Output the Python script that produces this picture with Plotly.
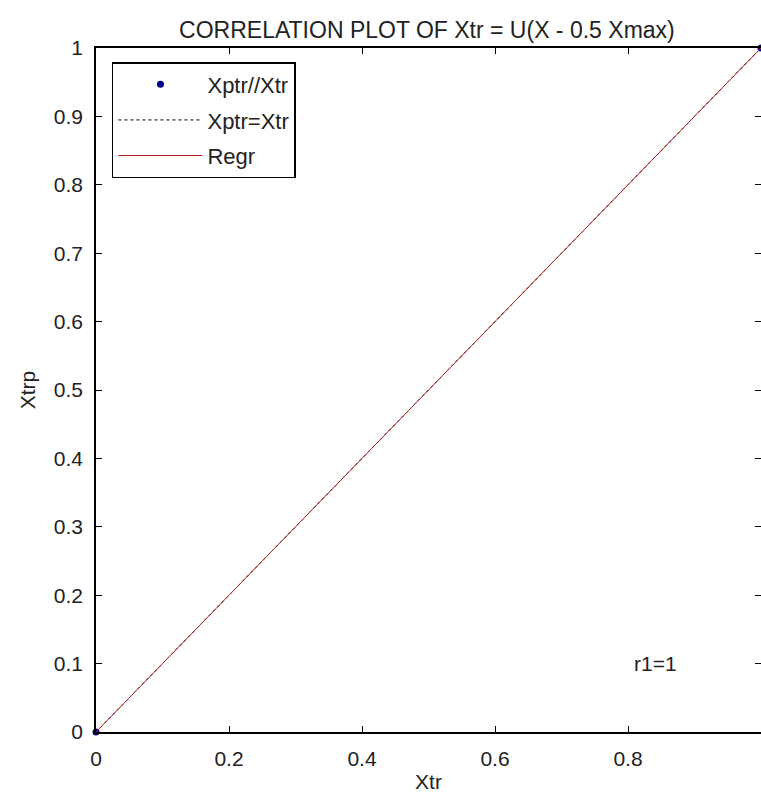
import plotly.graph_objects as go

# Data
xtr = [0, 1]
xtrp = [0, 1]
ideal_x = [0, 1]
ideal_y = [0, 1]
regr_x = [0, 1]
regr_y = [0, 1]
x_ticks = [0, 0.2, 0.4, 0.6, 0.8, 1]
y_ticks = [0, 0.1, 0.2, 0.3, 0.4, 0.5, 0.6, 0.7, 0.8, 0.9, 1]
r_text = "r1=1"

FONT = "Liberation Sans, Arial, sans-serif"
TXT = "#222222"

fig = go.Figure()
fig.add_trace(go.Scatter(x=xtr, y=xtrp, mode="markers", name="Xptr//Xtr", legendgroup="a",
                         marker=dict(color="#00008B", size=7, symbol="circle"),
                         cliponaxis=False))
fig.add_trace(go.Scatter(x=ideal_x, y=ideal_y, mode="lines", name="Xptr=Xtr", legendgroup="b",
                         line=dict(color="black", width=1, dash="dot")))
fig.add_trace(go.Scatter(x=regr_x, y=regr_y, mode="lines", name="Regr", legendgroup="c",
                         line=dict(color="#B22222", width=1)))

axis_common = dict(showgrid=False, zeroline=False, showline=True, linecolor="black",
                   linewidth=1.5, mirror="ticks", ticks="inside", ticklen=6,
                   tickcolor="black", automargin=False, ticklabelstandoff=7,
                   tickfont=dict(family=FONT, size=21, color=TXT))

fig.update_layout(
    width=761, height=793,
    margin=dict(l=96, r=0, t=48, b=61),
    paper_bgcolor="white", plot_bgcolor="white",
    title=dict(text="CORRELATION PLOT OF Xtr = U(X - 0.5 Xmax)", x=0.561, xanchor="center",
               y=1 - 30 / 793, yanchor="middle",
               font=dict(family=FONT, size=23, color=TXT)),
    xaxis=dict(range=[0, 1], tickvals=x_ticks, ticktext=[("%g" % v) for v in x_ticks],
               title=dict(text="Xtr", font=dict(family=FONT, size=21, color=TXT), standoff=6),
               **axis_common),
    yaxis=dict(range=[0, 1], tickvals=y_ticks, ticktext=[("%g" % v) for v in y_ticks],
               title=dict(text="Xtrp", font=dict(family=FONT, size=21, color=TXT), standoff=12),
               **axis_common),
    legend=dict(x=0.024, y=0.9795, xanchor="left", yanchor="top",
                bordercolor="black", borderwidth=1.5, bgcolor="white",
                font=dict(family=FONT, size=22, color=TXT),
                tracegroupgap=4, itemwidth=84),
    showlegend=True,
)
fig.add_annotation(x=0.806, y=0.1, xref="x", yref="y", text=r_text, showarrow=False,
                   xanchor="left", yanchor="middle",
                   font=dict(family=FONT, size=21, color=TXT))

fig.write_html("out.html")
